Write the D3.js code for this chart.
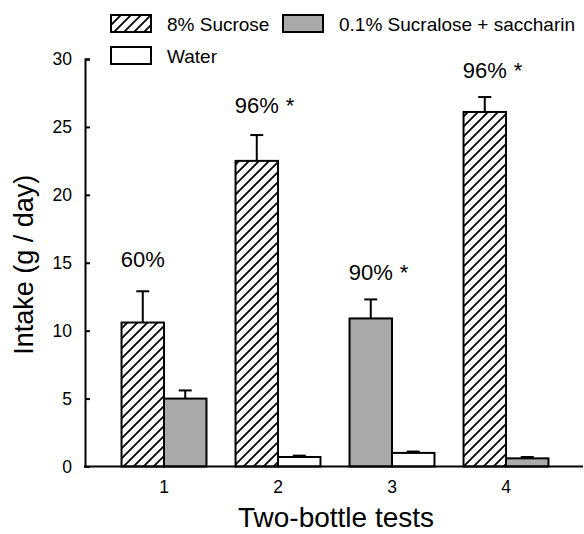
<!DOCTYPE html>
<html>
<head>
<meta charset="utf-8">
<script src="https://cdn.jsdelivr.net/npm/d3@7"></script>
<style>
  body { margin: 0; background: #fff; }
  svg { display: block; font-family: "Liberation Sans", Arial, sans-serif; }
</style>
</head>
<body>
<div id="chart"></div>
<script>
// data (g / day)
const tests = ["1", "2", "3", "4"];
const seriesNames = ["8% Sucrose", "0.1% Sucralose + saccharin", "Water"];
const sucrose = [10.6, 22.5, null, 26.1];
const sucroseErr = [2.3, 1.9, null, 1.1];
const sucralose = [5.0, null, 10.9, 0.6];
const sucraloseErr = [0.6, null, 1.4, 0.1];
const water = [null, 0.7, 1.0, null];
const waterErr = [null, 0.1, 0.1, null];
const pctLabels = ["60%", "96%", "90%", "96%"];
const signif = [false, true, true, true];
const labelAt = [14.7, 26.0, 13.7, 28.6];
const yTicks = [0, 5, 10, 15, 20, 25, 30];

const width = 584;
const height = 534;
const margin = { top: 59, right: 1, bottom: 67.5, left: 85 };

const svg = d3.select("#chart")
  .append("svg")
  .attr("width", width)
  .attr("height", height);

const defs = svg.append("defs");
defs.append("pattern")
  .attr("id", "hatch")
  .attr("patternUnits", "userSpaceOnUse")
  .attr("width", 10)
  .attr("height", 10)
  .call(p => p.append("rect").attr("width", 10).attr("height", 10).attr("fill", "#fff"))
  .append("path")
  .attr("d", "M-2.5,2.5 l5,-5 M0,10 l10,-10 M7.5,12.5 l5,-5")
  .attr("stroke", "#000")
  .attr("stroke-width", 1.8);

const fills = ["url(#hatch)", "#a9a9a9", "#fff"];
const values = [sucrose, sucralose, water];
const errs = [sucroseErr, sucraloseErr, waterErr];

// flatten to bars: each test has two bars, left and right of the tick
const bars = [];
tests.forEach((t, i) => {
  let slot = 0;
  values.forEach((vals, s) => {
    if (vals[i] != null) {
      bars.push({ test: t, series: s, slot: slot, value: vals[i], err: errs[s][i] });
      slot++;
    }
  });
});

const x = d3.scaleBand()
  .domain(tests)
  .range([107, 563])
  .paddingInner(0.255)
  .paddingOuter(0.1275);

const xSub = d3.scaleBand()
  .domain([0, 1])
  .range([0, x.bandwidth()]);

const y = d3.scaleLinear()
  .domain([0, 30])
  .range([height - margin.bottom, margin.top]);

// bars
svg.append("g")
  .selectAll("rect")
  .data(bars)
  .join("rect")
    .attr("x", d => x(d.test) + xSub(d.slot))
    .attr("y", d => y(d.value))
    .attr("width", xSub.bandwidth())
    .attr("height", d => y(0) - y(d.value))
    .attr("fill", d => fills[d.series])
    .attr("stroke", "#000")
    .attr("stroke-width", 2);

// error bars (upper only)
const eb = svg.append("g")
  .attr("stroke", "#000")
  .attr("stroke-width", 2)
  .selectAll("g")
  .data(bars.filter(d => d.err != null))
  .join("g")
    .attr("transform", d => `translate(${x(d.test) + xSub(d.slot) + xSub.bandwidth() / 2},0)`);
eb.append("line")
  .attr("y1", d => y(d.value))
  .attr("y2", d => y(d.value + d.err));
eb.append("line")
  .attr("x1", -6.5)
  .attr("x2", 6.5)
  .attr("y1", d => y(d.value + d.err))
  .attr("y2", d => y(d.value + d.err));

// y axis, ticks pointing inward
svg.append("g")
  .attr("transform", `translate(${margin.left},0)`)
  .call(d3.axisLeft(y).tickValues(yTicks).tickSizeInner(-5).tickSizeOuter(-5).tickPadding(13))
  .call(g => g.selectAll("line, path").attr("stroke", "#000").attr("stroke-width", 2))
  .call(g => g.selectAll("text").attr("font-size", 17.5).attr("fill", "#000"))
  .attr("font-family", null);

// x axis
svg.append("g")
  .attr("transform", `translate(0,${y(0)})`)
  .call(d3.axisBottom(x).tickSize(0).tickPadding(14))
  .call(g => g.select(".domain").remove())
  .call(g => g.selectAll("text").attr("font-size", 17.5).attr("fill", "#000"))
  .attr("font-family", null)
  .append("line")
    .attr("x1", margin.left - 1)
    .attr("x2", width - margin.right)
    .attr("stroke", "#000")
    .attr("stroke-width", 2);

// percentage labels over the taller bar of each pair
const ann = svg.append("g")
  .attr("font-size", 22)
  .attr("fill", "#000");
tests.forEach((t, i) => {
  const cx = x(t) + xSub(0) + xSub.bandwidth() / 2;
  const txt = ann.append("text")
    .attr("x", cx)
    .attr("y", y(labelAt[i]))
    .attr("text-anchor", "middle")
    .text(pctLabels[i]);
  if (signif[i]) {
    const w = txt.node().getComputedTextLength();
    ann.append("text")
      .attr("x", cx + w / 2 + 7)
      .attr("y", y(labelAt[i]))
      .text("*");
  }
});

// axis titles
svg.append("text")
  .attr("x", 336)
  .attr("y", 527)
  .attr("text-anchor", "middle")
  .attr("font-size", 28)
  .text("Two-bottle tests");

svg.append("text")
  .attr("transform", `translate(33,${(y(0) + y(30)) / 2 + 2}) rotate(-90)`)
  .attr("text-anchor", "middle")
  .attr("font-size", 27)
  .text("Intake (g / day)");

// legend
const legendPos = [[111, 15], [283, 15], [111, 47]];
const lg = svg.append("g")
  .selectAll("g")
  .data(seriesNames)
  .join("g")
    .attr("transform", (d, i) => `translate(${legendPos[i][0]},${legendPos[i][1]})`);
lg.append("rect")
  .attr("width", 40)
  .attr("height", 17)
  .attr("fill", (d, i) => fills[i])
  .attr("stroke", "#000")
  .attr("stroke-width", 2);
lg.append("text")
  .attr("x", 56)
  .attr("y", 16)
  .attr("font-size", 19)
  .text(d => d);
</script>
</body>
</html>
